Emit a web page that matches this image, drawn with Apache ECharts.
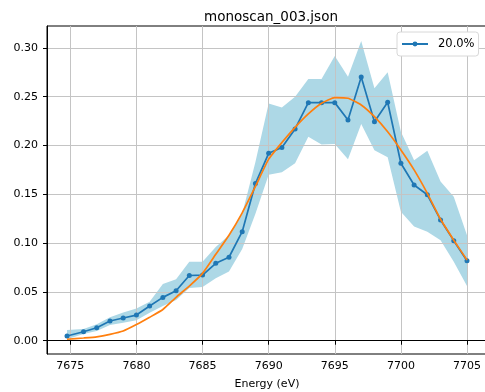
<!DOCTYPE html>
<html><head><meta charset="utf-8">
<script src="https://cdn.jsdelivr.net/npm/echarts@6/dist/echarts.min.js"></script>
<style>html,body{margin:0;padding:0;background:#fff}#c{width:485px;height:392px}</style>
</head><body><div id="c"></div>
<script>
const energy = [7674.75,7676,7677,7678,7679,7680,7681,7682,7683,7684,7685,7686,7687,7688,7689,7690,7691,7692,7693,7694,7695,7696,7697,7698,7699,7700,7701,7702,7703,7704,7705];
const meanVals = [0.0048,0.0092,0.0133,0.0202,0.0233,0.0263,0.0355,0.0444,0.0512,0.0668,0.0672,0.0793,0.0855,0.1117,0.161,0.192,0.198,0.217,0.2439,0.2439,0.2439,0.2261,0.2702,0.2244,0.2443,0.1818,0.1595,0.1495,0.1237,0.1025,0.082];
const upperVals = [0.011,0.012,0.017,0.024,0.029,0.033,0.040,0.058,0.063,0.081,0.081,0.096,0.108,0.130,0.183,0.243,0.239,0.250,0.268,0.268,0.2917,0.2705,0.307,0.2586,0.275,0.214,0.185,0.1947,0.163,0.1475,0.108];
const lowerVals = [0.0014,0.0069,0.010,0.016,0.0185,0.021,0.0287,0.0356,0.0417,0.054,0.055,0.064,0.071,0.094,0.130,0.170,0.1725,0.1817,0.209,0.201,0.2015,0.186,0.222,0.195,0.188,0.132,0.117,0.1117,0.103,0.081,0.056];
const fitVals = [0.0015,0.0028,0.004,0.0065,0.0099,0.0165,0.024,0.032,0.0445,0.056,0.069,0.0885,0.108,0.131,0.158,0.186,0.203,0.2186,0.2323,0.2432,0.249,0.2484,0.2415,0.2295,0.214,0.1954,0.175,0.151,0.1244,0.103,0.0827];
const xTicks = [7675,7680,7685,7690,7695,7700,7705];
const yTicks = [0,0.05,0.10,0.15,0.20,0.25,0.30];
const titleText = 'monoscan_003.json';
const xName = 'Energy (eV)';
const seriesName = '20.0%';

const FONT = 'DejaVu Sans';
const chart = echarts.init(document.getElementById('c'), null, {renderer: 'canvas'});
const pair = (ys) => energy.map((x, i) => [x, ys[i]]);

chart.setOption({
  animation: false,
  backgroundColor: '#fff',
  title: {
    text: titleText, left: 266, top: 5, textAlign: 'center',
    textStyle: {fontFamily: FONT, fontSize: 13.5, fontWeight: 'normal', color: '#000'}
  },
  legend: {
    data: [seriesName],
    left: 397, top: 32,
    padding: [6, 4, 6, 4],
    itemWidth: 26, itemHeight: 6,
    backgroundColor: '#fff',
    borderColor: '#d8d8d8', borderWidth: 1, borderRadius: 3,
    textStyle: {fontFamily: FONT, fontSize: 11.5, color: '#000', padding: [0, 0, 0, 5]}
  },
  grid: {
    left: 47, top: 26, width: 440, height: 328,
    outerBoundsMode: 'none', containLabel: false,
    show: true, borderColor: '#000', borderWidth: 1, backgroundColor: 'transparent'
  },
  xAxis: {
    type: 'value', min: 7673.2375, max: 7706.5125,
    name: xName, nameLocation: 'middle', nameGap: 25,
    nameTextStyle: {fontFamily: FONT, fontSize: 11, color: '#000'},
    axisLine: {show: true, lineStyle: {color: '#000', width: 1}},
    axisTick: {show: true, length: 4, lineStyle: {color: '#000'}, customValues: xTicks},
    axisLabel: {fontFamily: FONT, fontSize: 11, color: '#000', margin: 7, customValues: xTicks, formatter: v => String(v)},
    splitLine: {show: true, lineStyle: {color: '#c4c4c4', width: 1}}
  },
  yAxis: {
    type: 'value', min: -0.0136, max: 0.3224,
    axisLine: {show: true, lineStyle: {color: '#000', width: 1}},
    axisTick: {show: true, length: 4, lineStyle: {color: '#000'}, customValues: yTicks},
    axisLabel: {fontFamily: FONT, fontSize: 11, color: '#000', margin: 9, customValues: yTicks, formatter: v => v.toFixed(2)},
    splitLine: {show: true, lineStyle: {color: '#c4c4c4', width: 1}}
  },
  series: [
    {
      type: 'custom', name: 'band', z: -1, silent: true,
      data: [[energy[0], upperVals[0]]],
      renderItem: function (params, api) {
        const pts = [];
        for (let i = 0; i < energy.length; i++) pts.push(api.coord([energy[i], upperVals[i]]));
        for (let i = energy.length - 1; i >= 0; i--) pts.push(api.coord([energy[i], lowerVals[i]]));
        return {type: 'polygon', shape: {points: pts}, style: {fill: '#add8e6', stroke: null}};
      }
    },
    {
      type: 'line', name: seriesName, data: pair(meanVals), z: 3,
      symbol: 'circle', symbolSize: 5, showSymbol: true,
      itemStyle: {color: '#1f77b4'},
      lineStyle: {color: '#1f77b4', width: 1.7}
    },
    {
      type: 'line', name: 'fit', data: pair(fitVals), z: 4,
      symbol: 'none', smooth: 0.15,
      itemStyle: {color: '#ff7f0e'},
      lineStyle: {color: '#ff7f0e', width: 1.7}
    }
  ]
});
</script>
</body></html>
